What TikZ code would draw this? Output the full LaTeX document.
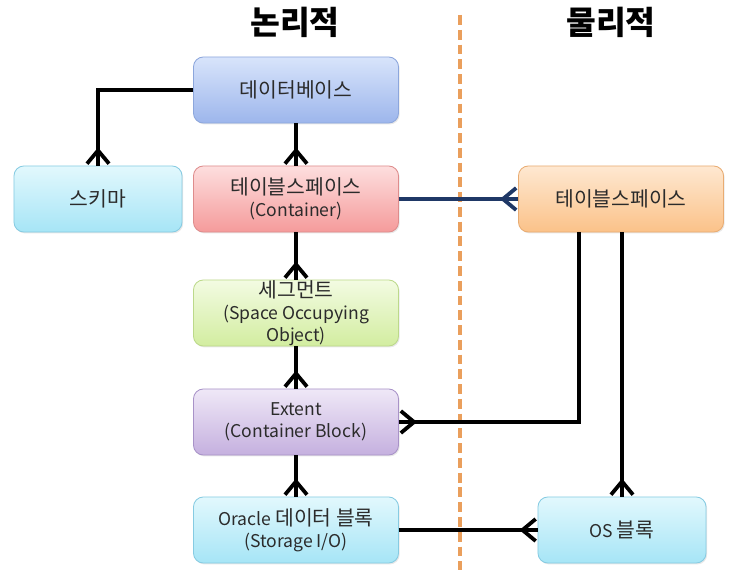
\documentclass[tikz,border=0pt]{standalone}
\usepackage{fontspec}
\setmainfont{Noto Sans CJK KR}
\newfontfamily\krfont{Noto Sans CJK KR}[Scale=1.16]
\usetikzlibrary{arrows.meta,positioning,shadows}
\tikzset{>={Straight Barb[reversed,length=3.3mm,width=5.5mm]}}

\definecolor{dbtop}{HTML}{D8E4FB}
\definecolor{dbbot}{HTML}{9DB6EC}
\definecolor{dbline}{HTML}{8CA6DC}
\definecolor{cytop}{HTML}{E2F8FD}
\definecolor{cybot}{HTML}{A6E5F6}
\definecolor{cyline}{HTML}{86CBE2}
\definecolor{rdtop}{HTML}{FDDEDE}
\definecolor{rdbot}{HTML}{F59B9B}
\definecolor{rdline}{HTML}{DE8C8C}
\definecolor{grtop}{HTML}{F3FBE2}
\definecolor{grbot}{HTML}{D2EDA0}
\definecolor{grline}{HTML}{BCD98A}
\definecolor{pptop}{HTML}{EFE8F7}
\definecolor{ppbot}{HTML}{C5B0DF}
\definecolor{ppline}{HTML}{A892C8}
\definecolor{ortop}{HTML}{FEE8D1}
\definecolor{orbot}{HTML}{FBC289}
\definecolor{orline}{HTML}{E9AC72}
\definecolor{navy}{HTML}{1F3866}
\definecolor{divcol}{HTML}{EA9F5C}
\definecolor{txt}{HTML}{2B2B2B}

\begin{document}
\begin{tikzpicture}[x=0.025cm,y=-0.025cm,
    box/.style={rounded corners=7pt,minimum width=5.125cm,minimum height=1.65cm,
      inner sep=0pt,align=center,text=txt,line width=0.6pt,
      font=\fontsize{12.5}{15.5}\selectfont,
      drop shadow={opacity=0.18,shadow xshift=0.8pt,shadow yshift=-1pt}},
    smallbox/.style={box,minimum width=4.2cm},
    dbbox/.style={top color=dbtop,bottom color=dbbot,draw=dbline},
    cybox/.style={top color=cytop,bottom color=cybot,draw=cyline},
    rdbox/.style={top color=rdtop,bottom color=rdbot,draw=rdline},
    grbox/.style={top color=grtop,bottom color=grbot,draw=grline},
    ppbox/.style={top color=pptop,bottom color=ppbot,draw=ppline},
    orbox/.style={top color=ortop,bottom color=orbot,draw=orline},
    title/.style={font=\fontsize{23}{27}\selectfont\bfseries},
    conn/.style={line width=2.7pt,postaction={draw,arrows=-}},
    divider/.style={draw=divcol,line width=2.6pt,dash pattern=on 7pt off 3.5pt}]
    \useasboundingbox[fill=white] (0,0) rectangle (740,570);

    % titles
    \node[title] (tlog) at (295,22) {논리적};
    \node[title] (tphy) at (611,22) {물리적};
    \draw[divider] (460,15) -- (460,570);

    % logical side
    \node[box,dbbox] (db) at (296,90) {\krfont 데이터베이스};
    \node[smallbox,cybox] (schema) at (98,199) {\krfont 스키마};
    \node[box,rdbox] (lts) at (296,199) {{\krfont 테이블스페이스}\\(Container)};
    \node[box,grbox] (seg) at (296,313) {{\krfont 세그먼트}\\(Space Occupying\\Object)};
    \node[box,ppbox] (ext) at (296,422) {Extent\\(Container Block)};
    \node[box,cybox] (oblk) at (296,530) {Oracle {\krfont 데이터 블록}\\(Storage I/O)};

    % physical side
    \node[box,orbox] (pts) at (621,199) {\krfont 테이블스페이스};
    \node[smallbox,cybox] (osblk) at (622,530) {OS {\krfont 블록}};

    \draw[->,conn] (db.west) -| (schema.north);
    \draw[->,conn] (db) -- (lts);
    \draw[->,conn] (lts) -- (seg);
    \draw[->,conn] (seg) -- (ext);
    \draw[->,conn] (ext) -- (oblk);
    \draw[->,conn,navy] (lts) -- (pts);
    \draw[->,conn] ([xshift=-1.05cm]pts.south) |- (ext.east);
    \draw[->,conn] (pts.south -| osblk.north) -- (osblk.north);
    \draw[->,conn] (oblk) -- (osblk);
\end{tikzpicture}
\end{document}
